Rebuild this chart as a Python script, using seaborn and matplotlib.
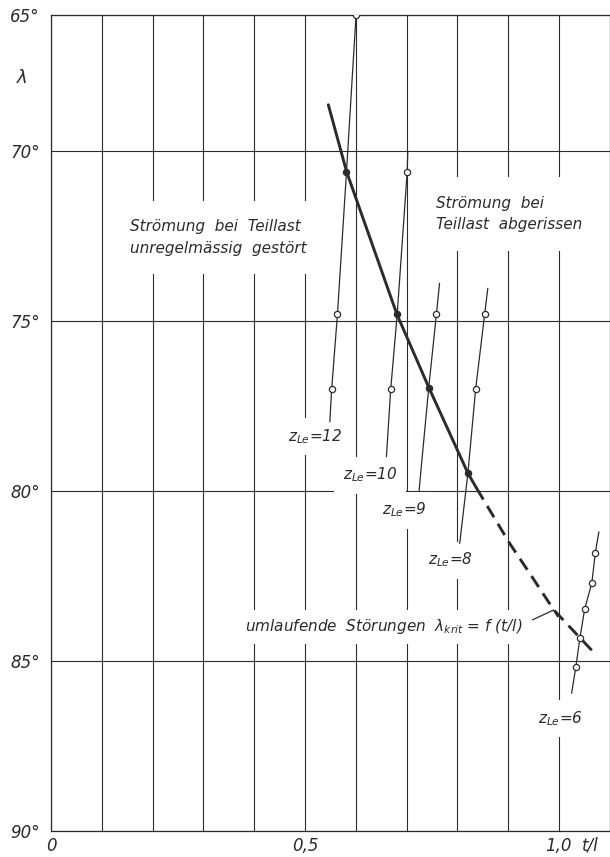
import numpy as np
import pandas as pd
import matplotlib
matplotlib.use("Agg")
import matplotlib.pyplot as plt
import seaborn as sns

# ---------------- data ----------------
curve_solid_tl = [0.546, 0.582, 0.681, 0.744, 0.821, 0.838]
curve_solid_lam = [68.3, 70.61, 74.80, 76.96, 79.48, 79.92]
curve_dash_tl = [0.838, 0.903, 0.942, 0.990, 1.070]
curve_dash_lam = [79.92, 81.54, 82.41, 83.50, 84.77]

z12_tl = [0.6006, 0.5818, 0.5640, 0.5526, 0.5490]
z12_lam = [65.0, 70.61, 74.80, 77.00, 77.96]
z12_mark = ["open", "filled", "open", "open", None]

z10_tl = [0.7025, 0.7013, 0.6816, 0.6689, 0.6604]
z10_lam = [70.0, 70.61, 74.80, 77.00, 78.99]
z10_mark = [None, "open", "filled", "open", None]

z9_tl = [0.7650, 0.7588, 0.7437, 0.7246]
z9_lam = [73.89, 74.80, 76.96, 80.00]
z9_mark = [None, "open", "filled", None]

z8_tl = [0.8600, 0.8538, 0.8361, 0.8208, 0.8047]
z8_lam = [74.04, 74.80, 77.00, 79.48, 81.54]
z8_mark = [None, "open", "open", "filled", None]

z6_tl = [1.0787, 1.0716, 1.0649, 1.0506, 1.0413, 1.0334, 1.0250]
z6_lam = [81.20, 81.83, 82.70, 83.48, 84.33, 85.17, 85.95]
z6_mark = [None, "open", "open", "open", "open", "open", None]

z_names = ["12", "10", "9", "8", "6"]
z_label_tl = [0.521, 0.628, 0.696, 0.787, 1.003]
z_label_lam = [78.41, 79.53, 80.56, 82.03, 86.70]

y_ticks = [65, 70, 75, 80, 85, 90]
y_ticklabels = ["65°", "70°", "75°", "80°", "85°", "90°"]
x_ticks = [0.0, 0.5, 1.0]
x_ticklabels = ["0", "0,5", "1,0"]

# ---------------- build tables ----------------
rows = []
for name, tl, lam, mk in [("12", z12_tl, z12_lam, z12_mark),
                          ("10", z10_tl, z10_lam, z10_mark),
                          ("9", z9_tl, z9_lam, z9_mark),
                          ("8", z8_tl, z8_lam, z8_mark),
                          ("6", z6_tl, z6_lam, z6_mark)]:
    for i, (a, b, m) in enumerate(zip(tl, lam, mk)):
        rows.append({"z": name, "order": i, "tl": a, "lam": b, "mark": m})
zdf = pd.DataFrame(rows)
solid_df = pd.DataFrame({"tl": curve_solid_tl, "lam": curve_solid_lam})
dash_df = pd.DataFrame({"tl": curve_dash_tl, "lam": curve_dash_lam})

# ---------------- style ----------------
sns.set_theme(style="white")
plt.rcParams["font.family"] = ["DejaVu Sans"]
plt.rcParams["mathtext.fontset"] = "dejavusans"
plt.rcParams["mathtext.default"] = "it"

ink = "#2b2b2b"
fig = plt.figure(figsize=(6.10, 8.57), dpi=100)
ax = fig.add_axes([51 / 610, 1 - 831 / 857, 1 - 51 / 610 - 0.0005, (831 - 15) / 857])

# z lines
sns.lineplot(data=zdf, x="tl", y="lam", units="z", estimator=None, sort=False,
             color=ink, linewidth=0.9, ax=ax, zorder=3, legend=False)
# critical curve
sns.lineplot(data=solid_df, x="tl", y="lam", sort=False, estimator=None,
             color=ink, linewidth=2.1, ax=ax, zorder=4)
sns.lineplot(data=dash_df, x="tl", y="lam", sort=False, estimator=None,
             color=ink, linewidth=2.1, ax=ax, zorder=4, linestyle=(0, (4.5, 2.6)))
# markers
sns.scatterplot(data=zdf[zdf["mark"] == "open"], x="tl", y="lam", s=20,
                facecolor="white", edgecolor=ink, linewidth=0.9, ax=ax, zorder=5,
                legend=False)
sns.scatterplot(data=zdf[zdf["mark"] == "filled"], x="tl", y="lam", s=20,
                color=ink, edgecolor=ink, linewidth=0.9, ax=ax, zorder=5,
                legend=False)

# ---------------- axes / scale ----------------
def fwd(y):
    y = np.asarray(y, dtype=float)
    return np.where(y < 70, 70 - (70 - y) * 0.8, y)


def inv(y):
    y = np.asarray(y, dtype=float)
    return np.where(y < 70, 70 - (70 - y) / 0.8, y)


ax.set_yscale("function", functions=(fwd, inv))
ax.set_ylim(90, 65)
ax.set_xlim(0, 1.1)

ax.set_yticks(y_ticks)
ax.set_yticklabels(y_ticklabels, fontsize=12, style="italic", color=ink)
ax.set_xticks(x_ticks)
ax.set_xticklabels(x_ticklabels, fontsize=12, style="italic", color=ink)
ax.set_xticks(np.round(np.arange(0.1, 1.01, 0.1), 2), minor=True)
ax.tick_params(axis="both", which="both", length=0)
ax.tick_params(axis="y", pad=8)
ax.tick_params(axis="x", pad=4)
ax.set_xlabel("")
ax.set_ylabel("")

ax.set_axisbelow(True)
ax.grid(True, which="major", axis="y", color=ink, linewidth=0.8)
ax.grid(True, which="both", axis="x", color=ink, linewidth=0.8)
for sp in ax.spines.values():
    sp.set_visible(True)
    sp.set_color(ink)
    sp.set_linewidth(0.9)

# ---------------- texts ----------------
box = dict(facecolor="white", edgecolor="none", boxstyle="square,pad=0.6")
for name, a, b in zip(z_names, z_label_tl, z_label_lam):
    ax.text(a, b, "$z_{Le}$=" + name, fontsize=11, style="italic", color=ink,
            ha="center", va="center", bbox=box, zorder=2)

bigbox = dict(facecolor="white", edgecolor="none", boxstyle="square,pad=1.2")
ax.text(0.155, 72.55, "Strömung  bei  Teillast\nunregelmässig  gestört", fontsize=11,
        style="italic", color=ink, ha="left", va="center", linespacing=1.55,
        bbox=bigbox, zorder=2)
ax.text(0.759, 71.85, "Strömung  bei\nTeillast  abgerissen", fontsize=11,
        style="italic", color=ink, ha="left", va="center", linespacing=1.55,
        bbox=bigbox, zorder=2)

smallbox = dict(facecolor="white", edgecolor="none", boxstyle="square,pad=0.5")
ax.text(0.9286, 84.0, r"umlaufende  Störungen  $\lambda_{krit}$ = f (t/l)",
        fontsize=11, style="italic", color=ink, ha="right", va="center",
        bbox=smallbox, zorder=2)
ax.plot([0.948, 0.9896, 0.997], [83.79, 83.50, 83.70], color=ink, linewidth=0.9,
        zorder=3)

ax.text(1.062, -0.0068, "t/l", transform=ax.get_xaxis_transform(), fontsize=12,
        style="italic", color=ink, ha="center", va="top")
fig.text(22 / 610, 1 - 78 / 857, "λ", fontsize=13, style="italic", color=ink,
         ha="center", va="center")

fig.savefig("out.png", dpi=100, facecolor="white")
